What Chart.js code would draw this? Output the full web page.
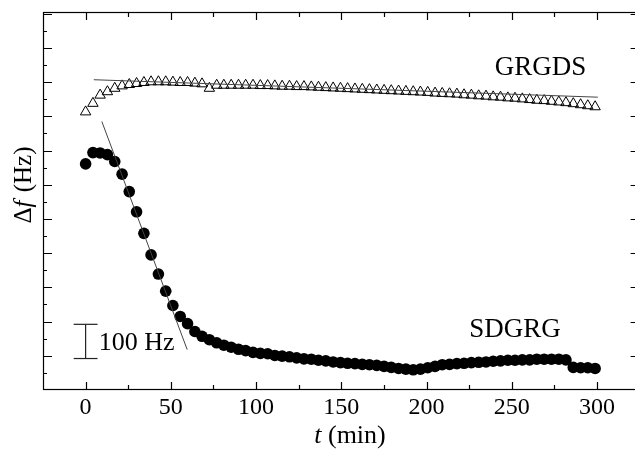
<!DOCTYPE html>
<html>
<head>
<meta charset="utf-8">
<script src="https://cdn.jsdelivr.net/npm/chart.js@4.4.1/dist/chart.umd.min.js"></script>
<style>
  html, body { margin: 0; padding: 0; background: #fff; overflow: hidden; }
  #wrap { position: absolute; left: 0; top: 0; width: 635px; height: 450px; }
</style>
</head>
<body>
<div id="wrap"><canvas id="grafico" width="635" height="450"></canvas></div>
<script>
// tiempos de medida (min), comunes a las dos series
const tiempos = [
  0, 4.3, 8.5, 12.8, 17.1, 21.4, 25.6, 29.9, 34.2, 38.4,
  42.7, 47.0, 51.2, 55.5, 59.8, 64.1, 68.3, 72.6, 76.9, 81.1,
  85.4, 89.7, 93.9, 98.2, 102.5, 106.8, 111.0, 115.3, 119.6, 123.8,
  128.1, 132.4, 136.6, 140.9, 145.2, 149.5, 153.7, 158.0, 162.3, 166.5,
  170.8, 175.1, 179.3, 183.6, 187.9, 192.2, 196.4, 200.7, 205.0, 209.2,
  213.5, 217.8, 222.0, 226.3, 230.6, 234.9, 239.1, 243.4, 247.7, 251.9,
  256.2, 260.5, 264.7, 269.0, 273.3, 277.6, 281.8, 286.1, 290.4, 294.6,
  298.9
];
// delta f (Hz), serie SDGRG (circulos)
const sdgrg = [
  561, 594, 593, 588, 568, 531, 480, 421, 358, 295,
  239, 189, 147, 115, 94, 71, 57, 47, 38, 31,
  25, 19, 15, 10, 7, 6, 1, -1, -3, -6,
  -9, -10, -13, -15, -18, -20, -22, -23, -25, -26,
  -28, -31, -34, -37, -39, -41, -39, -35, -31, -26,
  -25, -23, -22, -20, -19, -18, -16, -15, -13, -13,
  -12, -12, -10, -10, -10, -10, -12, -34, -35, -35,
  -37
];
// delta f (Hz), serie GRGDS (triangulos)
const grgds = [
  713, 738, 762, 772, 782, 789, 793, 796, 799, 801,
  801, 801, 800, 799, 799, 797, 795, 782, 791, 791,
  791, 791, 791, 791, 790, 790, 789, 788, 788, 787,
  787, 786, 785, 784, 783, 782, 781, 780, 779, 778,
  777, 776, 775, 774, 773, 772, 771, 770, 768, 767,
  766, 765, 763, 762, 760, 759, 757, 756, 754, 753,
  751, 749, 747, 746, 744, 742, 740, 737, 734, 731,
  728
];
// rectas de ajuste
const ajusteGrgdsT = [4.8, 300.5];
const ajusteGrgdsHz = [807, 756];
const ajusteSdgrgT = [9.5, 59.6];
const ajusteSdgrgHz = [685, 18];
// barra de escala de 100 Hz
const barraT = [0, 0];
const barraHz = [-8, 92];
const topeT = [-7, 7];

const xMarcas = [0, 50, 100, 150, 200, 250, 300];
// el marco derecho cae justo fuera del lienzo (t = 325)
const X_FIN = 325;

const pares = (xs, ys) => xs.map((x, i) => ({ x: x, y: ys[i] }));
const FUENTE = '"Liberation Serif", "Times New Roman", serif';

const lineaSimple = (datos, color, ancho) => ({
  data: datos,
  showLine: true,
  borderColor: color,
  borderWidth: ancho,
  pointRadius: 0,
  fill: false
});

// ejes con marcas hacia dentro, marco y textos
const decoracion = {
  id: 'decoracion',
  afterDraw(chart) {
    const ctx = chart.ctx;
    const a = chart.chartArea;
    const xs = chart.scales.x, ys = chart.scales.y;
    const der = xs.getPixelForValue(X_FIN);
    ctx.save();
    ctx.strokeStyle = '#000';
    ctx.lineWidth = 1.2;
    ctx.strokeRect(a.left + 0.5, a.top + 0.5, der - a.left - 1, a.bottom - a.top - 1);

    ctx.beginPath();
    for (let v = 0; v <= 300; v += 25) {
      const px = Math.round(xs.getPixelForValue(v)) + 0.5;
      const len = v % 50 === 0 ? 8 : 5;
      ctx.moveTo(px, a.bottom); ctx.lineTo(px, a.bottom - len);
      ctx.moveTo(px, a.top); ctx.lineTo(px, a.top + len);
    }
    for (let v = -50; v <= 1000; v += 50) {
      const py = Math.round(ys.getPixelForValue(v)) + 0.5;
      const len = v % 100 === 0 ? 9 : 4;
      ctx.moveTo(a.left, py); ctx.lineTo(a.left + len, py);
      ctx.moveTo(der, py); ctx.lineTo(der - len, py);
    }
    ctx.stroke();

    ctx.fillStyle = '#000';
    ctx.textBaseline = 'alphabetic';
    ctx.textAlign = 'left';
    ctx.font = '27px ' + FUENTE;
    ctx.fillText('GRGDS', xs.getPixelForValue(240), ys.getPixelForValue(822));
    ctx.fillText('SDGRG', xs.getPixelForValue(225), ys.getPixelForValue(54));
    ctx.font = '26px ' + FUENTE;
    ctx.fillText('100 Hz', xs.getPixelForValue(7.7), ys.getPixelForValue(17));

    // titulo eje x: t (min)
    ctx.font = 'italic 26px ' + FUENTE;
    const wT = ctx.measureText('t').width;
    ctx.font = '26px ' + FUENTE;
    const wR = ctx.measureText(' (min)').width;
    let x0 = 350 - (wT + wR) / 2;
    ctx.font = 'italic 26px ' + FUENTE;
    ctx.fillText('t', x0, 443);
    ctx.font = '26px ' + FUENTE;
    ctx.fillText(' (min)', x0 + wT, 443);

    // titulo eje y: Δf (Hz)
    ctx.translate(31, 186);
    ctx.rotate(-Math.PI / 2);
    ctx.font = '25px ' + FUENTE;
    const wD = ctx.measureText('\u0394').width;
    const wH = ctx.measureText(' (Hz)').width;
    ctx.font = 'italic 25px ' + FUENTE;
    const wF = ctx.measureText('f').width;
    let y0 = -(wD + wF + wH) / 2;
    ctx.font = '25px ' + FUENTE;
    ctx.fillText('\u0394', y0, 0);
    ctx.font = 'italic 25px ' + FUENTE;
    ctx.fillText('f', y0 + wD, 0);
    ctx.font = '25px ' + FUENTE;
    ctx.fillText(' (Hz)', y0 + wD + wF + 2, 0);
    ctx.restore();
  }
};

new Chart(document.getElementById('grafico'), {
  type: 'scatter',
  data: {
    datasets: [
      lineaSimple(pares(ajusteGrgdsT, ajusteGrgdsHz), '#444', 1),
      lineaSimple(pares(ajusteSdgrgT, ajusteSdgrgHz), '#444', 1),
      lineaSimple(pares(barraT, barraHz), '#222', 1.2),
      lineaSimple(pares(topeT, [barraHz[1], barraHz[1]]), '#222', 1.2),
      lineaSimple(pares(topeT, [barraHz[0], barraHz[0]]), '#222', 1.2),
      {
        label: 'GRGDS',
        data: pares(tiempos, grgds),
        pointStyle: 'triangle',
        pointRadius: 6,
        backgroundColor: 'rgba(255,255,255,0)',
        borderColor: '#000',
        borderWidth: 1
      },
      {
        label: 'SDGRG',
        data: pares(tiempos, sdgrg),
        pointStyle: 'circle',
        pointRadius: 5.8,
        backgroundColor: '#000',
        borderColor: '#000',
        borderWidth: 0
      }
    ]
  },
  options: {
    responsive: false,
    animation: false,
    layout: { autoPadding: false, padding: { top: 12, right: 0, left: 0, bottom: 0 } },
    plugins: {
      legend: { display: false },
      tooltip: { enabled: false }
    },
    scales: {
      x: {
        type: 'linear',
        min: -25,
        max: 322.3,
        afterFit: (s) => { s.height = 60; s.paddingLeft = 0; s.paddingRight = 0; },
        afterBuildTicks: (s) => { s.ticks = xMarcas.map(v => ({ value: v })); },
        grid: { display: false, drawTicks: false },
        border: { display: false },
        ticks: {
          color: '#000',
          padding: 3,
          maxRotation: 0,
          autoSkip: false,
          font: { family: FUENTE, size: 24 },
          callback: (v) => String(v)
        }
      },
      y: {
        type: 'linear',
        min: -100,
        max: 1005,
        afterFit: (s) => { s.width = 43; s.paddingTop = 0; s.paddingBottom = 0; },
        grid: { display: false, drawTicks: false },
        border: { display: false },
        ticks: { display: false }
      }
    }
  },
  plugins: [decoracion]
});
</script>
</body>
</html>
